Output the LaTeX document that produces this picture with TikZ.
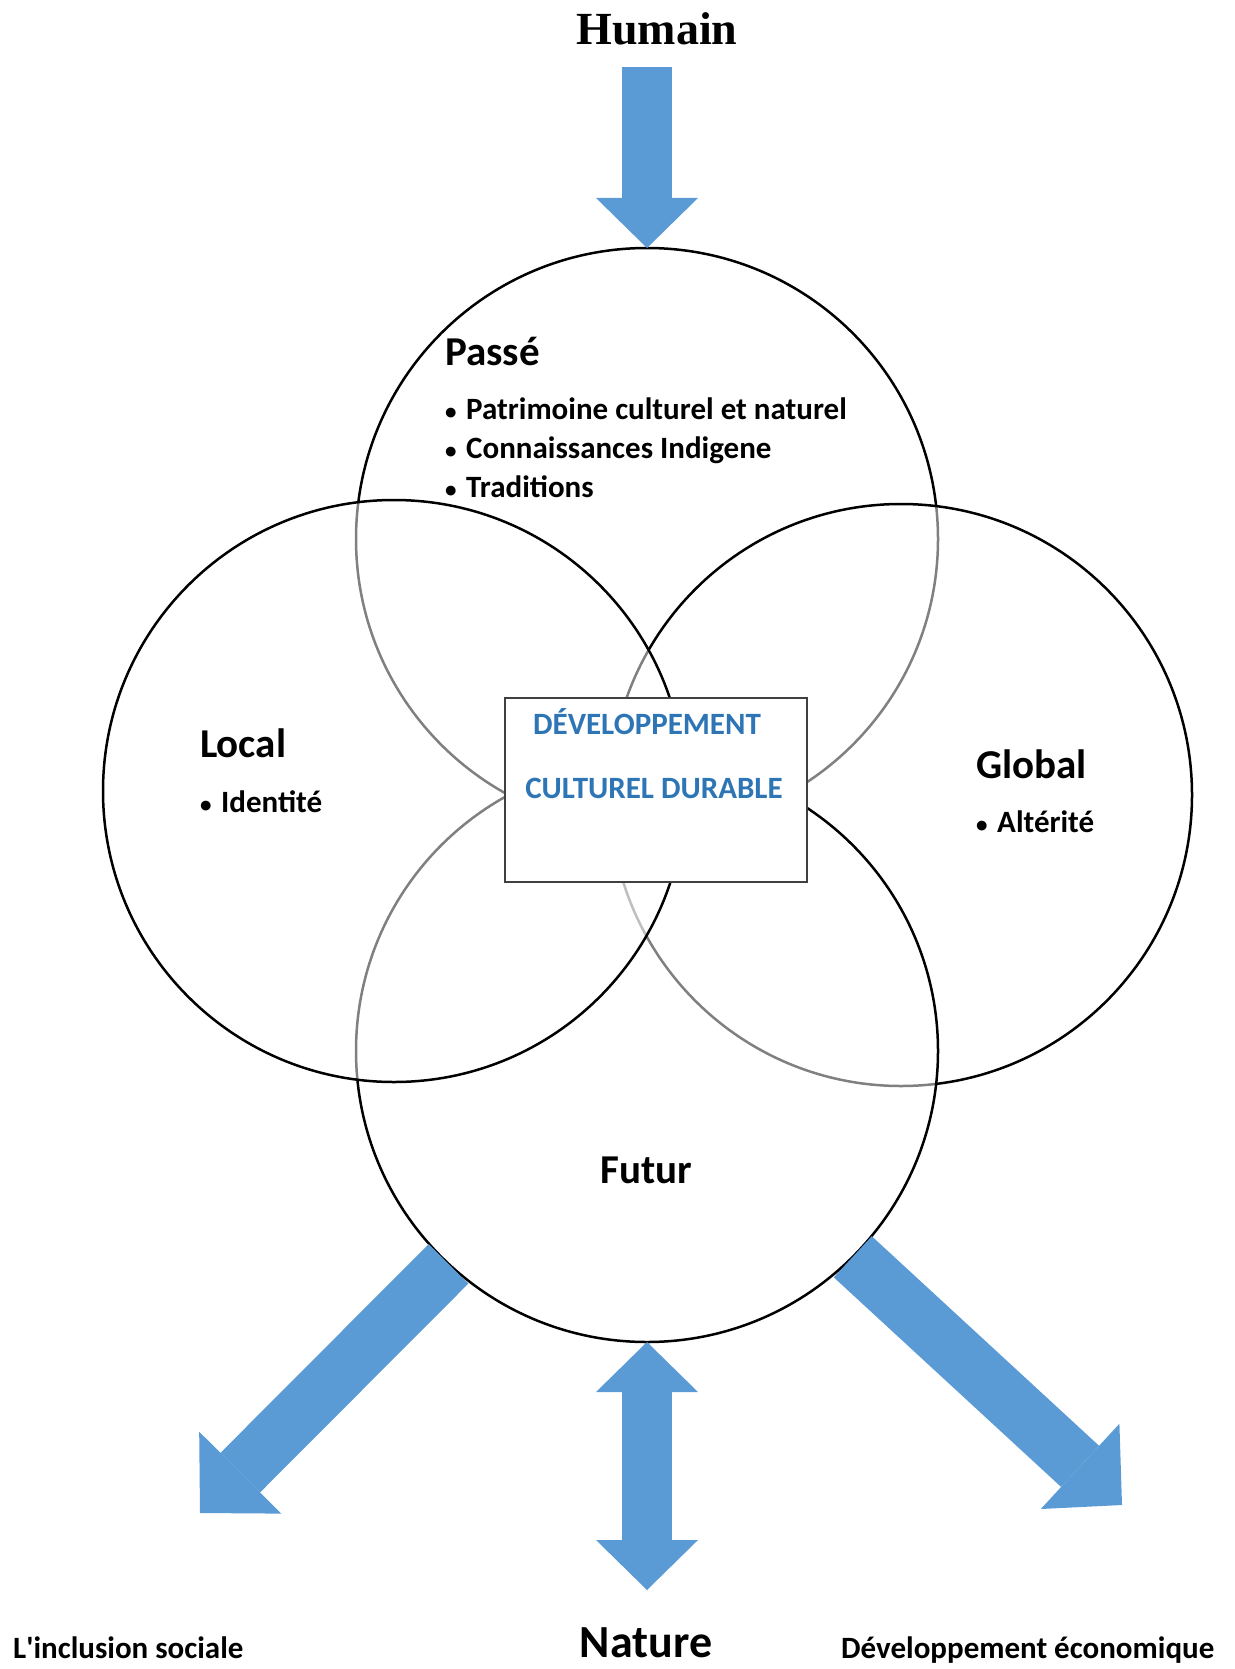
\documentclass[tikz,border=0pt]{standalone}
\usepackage{fontspec}
\setmainfont{Carlito}
\newfontfamily\serifhead{Liberation Serif}
\usepackage{xcolor}
\usetikzlibrary{positioning,arrows.meta}
\definecolor{arrow-blue}{RGB}{91,155,213}
\definecolor{title-blue}{RGB}{46,117,182}
\newcommand{\bul}{\makebox[21pt][l]{\fontsize{23}{23}\selectfont •}}

\begin{document}
\begin{tikzpicture}
[
x=1pt, y=-1pt,
venn/.style={circle, draw, line width=2.5pt, minimum size=582pt, inner sep=0pt, outer sep=0pt, fill=white, fill opacity=0.5},
core/.style={rectangle, draw=black!75, line width=2pt, fill=white, minimum width=302pt, minimum height=184pt, inner sep=0pt},
head/.style={font=\bfseries\fontsize{41}{41}\selectfont, inner sep=0pt, anchor=base west},
item/.style={font=\bfseries\fontsize{31}{31}\selectfont, inner sep=0pt, anchor=base west},
core-text/.style={font=\bfseries\fontsize{31}{31}\selectfont, text=title-blue, inner sep=0pt, anchor=base},
foot/.style={font=\bfseries\fontsize{31}{31}\selectfont, inner sep=0pt},
arrow-v/.style={draw=arrow-blue, line width=50pt, -{Triangle[length=50pt, width=102pt, line width=0pt]}},
arrow-vv/.style={draw=arrow-blue, line width=50pt, {Triangle[length=50pt, width=102pt, line width=0pt]}-{Triangle[length=50pt, width=102pt, line width=0pt]}},
arrow-d/.style={draw=arrow-blue, line width=56pt, -{Triangle[length=57pt, width=116pt, line width=0pt]}}
]
\useasboundingbox (0,0) rectangle (1234,1669);
% the four circles, lower edges show through
\node (passe)  [venn] at (647,539)  {};
\node (global) [venn] at (901,795)  {};
\node (futur)  [venn] at (647,1051) {};
\node (local)  [venn] at (394,791)  {};
\node (core)   [core] at (656,790)  {};
\node (core-1) [core-text] at (647,734) {DÉVELOPPEMENT};
\node (core-2) [core-text] at (654,798) {CULTUREL DURABLE};
% titles and lists
\node (humain)   [font=\serifhead\bfseries\fontsize{46}{46}\selectfont, inner sep=0pt, anchor=base] at (657,45) {Humain};
\node (passe-h)  [head] at (445,365) {Passé};
\node (passe-1)  [item, below=54pt of passe-h.base west, anchor=base west] {\bul Patrimoine culturel et naturel};
\node (passe-2)  [item, below=39pt of passe-1.base west, anchor=base west] {\bul Connaissances Indigene};
\node (passe-3)  [item, below=39pt of passe-2.base west, anchor=base west] {\bul Traditions};
\node (local-h)  [head] at (200,757) {Local};
\node (local-1)  [item, below=55pt of local-h.base west, anchor=base west] {\bul Identité};
\node (global-h) [head] at (976,778) {Global};
\node (global-1) [item, below=54pt of global-h.base west, anchor=base west] {\bul Altérité};
\node (futur-h)  [head, anchor=base] at (646,1183) {Futur};
\node (incl)     [foot, anchor=base west] at (13,1658) {L\textquotesingle inclusion sociale};
\node (nature)   [foot, font=\bfseries\fontsize{46}{46}\selectfont, anchor=base] at (646,1657) {Nature};
\node (dev)      [foot, anchor=base west] at (841,1658) {Développement économique};
% arrows
\coordinate (humain-from) at (647,67);
\coordinate (nature-tip)  at (647,1590);
\coordinate (incl-tip)    at (200,1513);
\coordinate (dev-tip)     at (1122,1505);
\draw [arrow-v]  (humain-from) -- (passe.north);
\draw [arrow-vv] (futur.south) -- (nature-tip);
\draw [arrow-d]  (futur.227)   -- (incl-tip);
\draw [arrow-d]  (futur.315)   -- (dev-tip);
\end{tikzpicture}
\end{document}
